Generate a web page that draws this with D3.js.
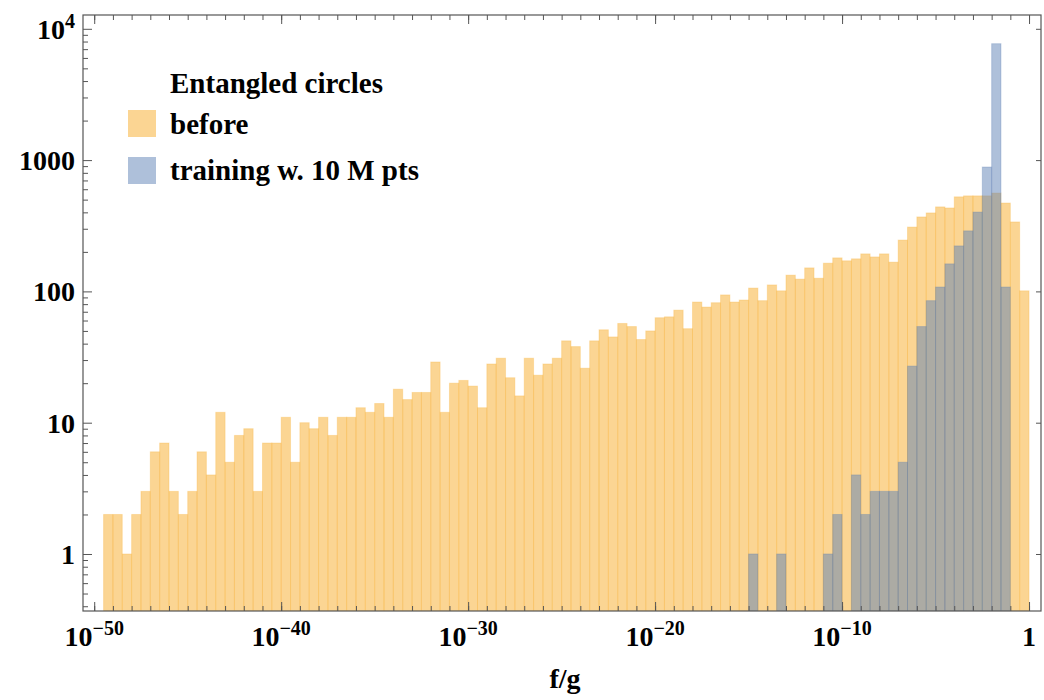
<!DOCTYPE html>
<html>
<head>
<meta charset="utf-8">
<script src="https://cdn.jsdelivr.net/npm/d3@7"></script>
<style>
  body { margin: 0; background: #fff; }
  text { font-family: "Liberation Serif", "Times New Roman", serif; font-weight: bold; fill: #000; }
</style>
</head>
<body>
<svg id="chart" width="1044" height="700"></svg>
<script>
// bins are half a decade wide, first one starts at 10^-49.5
var binStart = -49.5;
var binWidth = 0.5;

var beforeCounts = [
  2, 2, 1, 2, 3, 6, 7, 3, 2, 3,
  6, 4, 12, 5, 8, 9, 3, 7, 7, 11,
  5, 10, 9, 11, 8, 11, 11, 13, 12, 14,
  11, 18, 15, 17, 17, 29, 12, 20, 21, 19,
  13, 28, 31, 22, 16, 31, 23, 28, 31, 42,
  38, 26, 42, 51, 45, 57, 54, 43, 50, 63,
  64, 72, 52, 83, 76, 82, 94, 83, 86, 106,
  85, 112, 101, 133, 124, 151, 126, 164, 180, 171,
  177, 193, 183, 193, 167, 246, 309, 369, 396, 440,
  432, 525, 534, 534, 534, 561, 471, 338, 101
];

var trainingCounts = [
  0, 0, 0, 0, 0, 0, 0, 0, 0, 0,
  0, 0, 0, 0, 0, 0, 0, 0, 0, 0,
  0, 0, 0, 0, 0, 0, 0, 0, 0, 0,
  0, 0, 0, 0, 0, 0, 0, 0, 0, 0,
  0, 0, 0, 0, 0, 0, 0, 0, 0, 0,
  0, 0, 0, 0, 0, 0, 0, 0, 0, 0,
  0, 0, 0, 0, 0, 0, 0, 0, 0, 1,
  0, 0, 1, 0, 0, 0, 0, 1, 2, 0,
  4, 2, 3, 3, 3, 5, 27, 54, 85, 108,
  162, 222, 289, 402, 886, 7700, 108, 0, 0
];

var xTickExps = [-50, -40, -30, -20, -10, 0];
var yTickExps = [0, 1, 2, 3, 4];
var yTickLabels = ["1", "10", "100", "1000", null];
var legendTitle = "Entangled circles";
var seriesNames = ["before", "training w. 10 M pts"];
var xTitle = "f/g";

var orange = "rgb(247,178,58)";
var blue = "rgb(94,129,181)";
var frameColor = "#555";

// (window.top is read-only, so keep these names distinct)
var plotLeft = 83, plotRight = 1041, plotTop = 15, plotBottom = 611;

var svg = d3.select("#chart");

var x = d3.scaleLog()
  .domain([Math.pow(10, -50.6), Math.pow(10, 0.64)])
  .range([plotLeft, plotRight]);

var y = d3.scaleLog()
  .domain([0.368, 12740])
  .range([plotBottom, plotTop]);

function bins(counts) {
  return counts.map(function(c, i) {
    var lo = binStart + i * binWidth;
    return { x0: Math.pow(10, lo), x1: Math.pow(10, lo + binWidth), count: c };
  }).filter(function(d) { return d.count > 0; });
}

svg.append("clipPath").attr("id", "plotclip")
  .append("rect")
  .attr("x", plotLeft).attr("y", plotTop)
  .attr("width", plotRight - plotLeft).attr("height", plotBottom - plotTop);

var plot = svg.append("g").attr("clip-path", "url(#plotclip)");

function drawBars(counts, color, opacity) {
  plot.append("g")
    .selectAll("rect")
    .data(bins(counts))
    .join("rect")
    .attr("x", function(d) { return x(d.x0); })
    .attr("width", function(d) { return x(d.x1) - x(d.x0); })
    .attr("y", function(d) { return y(d.count); })
    .attr("height", function(d) { return plotBottom - y(d.count); })
    .attr("fill", color)
    .attr("fill-opacity", opacity)
    .attr("stroke", color)
    .attr("stroke-opacity", 0.3)
    .attr("stroke-width", 1);
}

drawBars(beforeCounts, orange, 0.55);
drawBars(trainingCounts, blue, 0.5);

// frame
svg.append("rect")
  .attr("x", plotLeft).attr("y", plotTop)
  .attr("width", plotRight - plotLeft).attr("height", plotBottom - plotTop)
  .attr("fill", "none")
  .attr("stroke", frameColor)
  .attr("stroke-width", 1.2);

// ticks
var xMajor = xTickExps.map(function(e) { return Math.pow(10, e); });
var xMinor = d3.range(-50, 1).map(function(e) { return Math.pow(10, e); });
var yMajor = yTickExps.map(function(e) { return Math.pow(10, e); });
var yMinor = [];
[-1, 0, 1, 2, 3].forEach(function(k) {
  for (var m = 2; m <= 9; m++) {
    var v = m * Math.pow(10, k);
    if (v > y.domain()[0] && v < y.domain()[1]) yMinor.push(v);
  }
});

function tickGroup(axis, tx, ty) {
  var g = svg.append("g")
    .attr("transform", "translate(" + tx + "," + ty + ")")
    .call(axis.tickFormat(""));
  g.select(".domain").remove();
  g.selectAll("line").attr("stroke", frameColor).attr("stroke-width", 1);
  return g;
}

tickGroup(d3.axisBottom(x).tickValues(xMinor).tickSize(-5), 0, plotBottom);
tickGroup(d3.axisBottom(x).tickValues(xMajor).tickSize(-9), 0, plotBottom);
tickGroup(d3.axisTop(x).tickValues(xMinor).tickSize(-5), 0, plotTop);
tickGroup(d3.axisTop(x).tickValues(xMajor).tickSize(-9), 0, plotTop);
tickGroup(d3.axisLeft(y).tickValues(yMinor).tickSize(-5), plotLeft, 0);
tickGroup(d3.axisLeft(y).tickValues(yMajor).tickSize(-9), plotLeft, 0);
tickGroup(d3.axisRight(y).tickValues(yMajor).tickSize(-5), plotRight, 0);

// x tick labels
xTickExps.forEach(function(e) {
  var t = svg.append("text")
    .attr("x", x(Math.pow(10, e)))
    .attr("y", 646)
    .attr("text-anchor", "middle")
    .style("font-size", "28px");
  if (e === 0) {
    t.text("1");
  } else {
    t.append("tspan").text("10");
    t.append("tspan")
      .attr("dy", -11)
      .style("font-size", "20px")
      .text("\u2212" + Math.abs(e));
  }
});

// y tick labels
yTickExps.forEach(function(e, i) {
  var t = svg.append("text")
    .attr("x", 75)
    .attr("y", y(Math.pow(10, e)) + 10)
    .attr("text-anchor", "end")
    .style("font-size", "28px");
  if (yTickLabels[i] !== null) {
    t.text(yTickLabels[i]);
  } else {
    t.append("tspan").text("10");
    t.append("tspan")
      .attr("dy", -11)
      .style("font-size", "20px")
      .text(e);
  }
});

// axis title
svg.append("text")
  .attr("x", (plotLeft + plotRight) / 2 + 3)
  .attr("y", 688)
  .attr("text-anchor", "middle")
  .style("font-size", "28px")
  .text(xTitle);

// legend
var legend = svg.append("g");
legend.append("text")
  .attr("x", 170).attr("y", 93)
  .style("font-size", "29px")
  .text(legendTitle);

[orange, blue].forEach(function(c, i) {
  legend.append("rect")
    .attr("x", 128).attr("y", 110 + i * 47)
    .attr("width", 28).attr("height", 27)
    .attr("fill", c)
    .attr("fill-opacity", i === 0 ? 0.55 : 0.5);
  legend.append("text")
    .attr("x", 170).attr("y", 134 + i * 46)
    .style("font-size", "29px")
    .text(seriesNames[i]);
});
</script>
</body>
</html>
